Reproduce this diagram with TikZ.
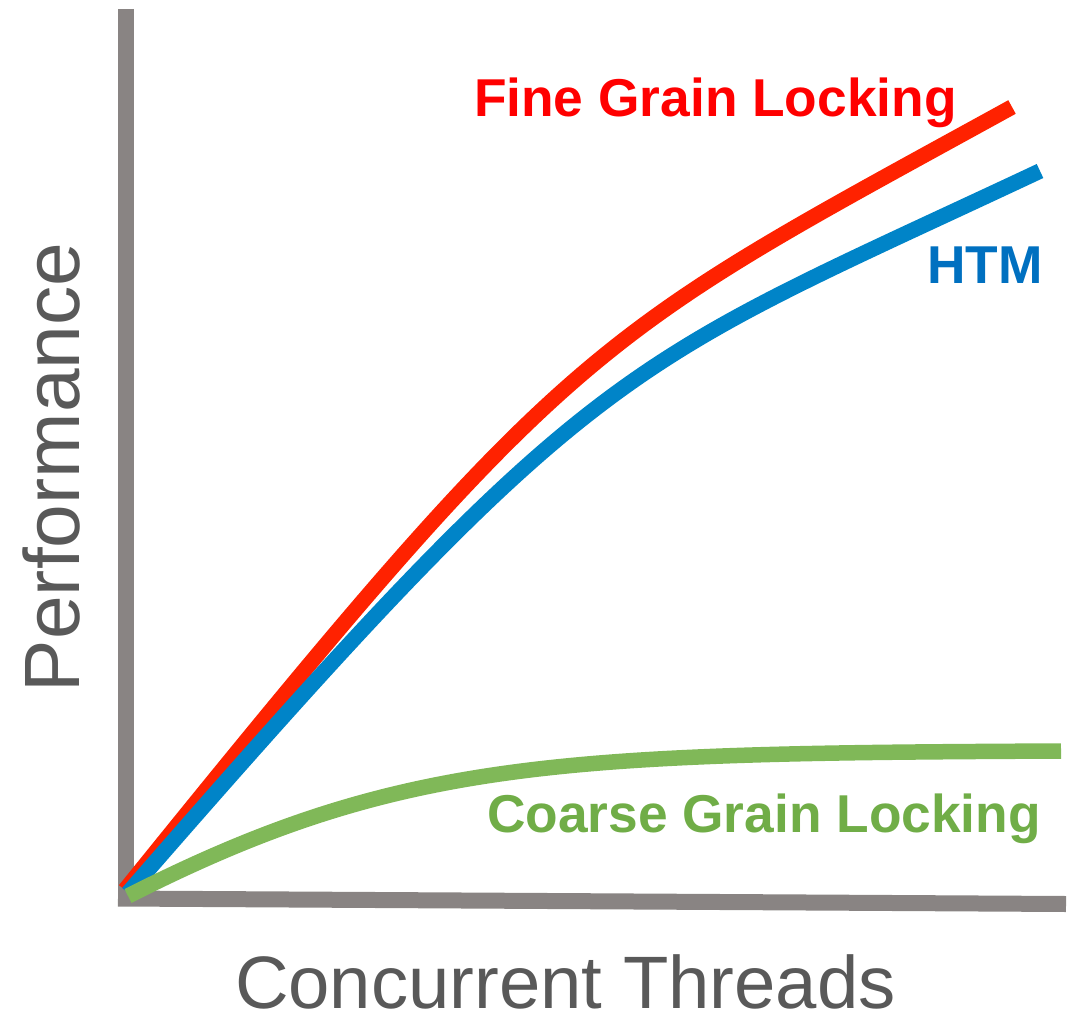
\documentclass[tikz,border=0pt]{standalone}
\usepackage{fontspec}
\setmainfont{Liberation Sans}
\definecolor{axisgray}{HTML}{898483}
\definecolor{labelgray}{HTML}{595959}
\definecolor{finered}{HTML}{FF2200}
\definecolor{finetext}{HTML}{FF0000}
\definecolor{htmblue}{HTML}{0084C8}
\definecolor{htmtext}{HTML}{0070C0}
\definecolor{coarsegreen}{HTML}{80B858}
\definecolor{coarsetext}{HTML}{70AD47}
\begin{document}
\begin{tikzpicture}[x=1pt,y=-1pt,
  axisline/.style={draw=axisgray,line width=16pt},
  curve/.style={line width=15.5pt,line cap=butt,line join=round},
  lbl/.style={inner sep=0pt,outer sep=0pt,anchor=base west,font=\fontsize{53.3}{60}\selectfont\bfseries},
  axlbl/.style={inner sep=0pt,outer sep=0pt,anchor=base west,text=labelgray}]
\useasboundingbox (0,0) rectangle (1076,1019);
% axes
\coordinate (ytop) at (126,9);
\coordinate (ybot) at (126,906);
\coordinate (xleft) at (118,898.5);
\coordinate (xright) at (1066,904);
\draw[axisline] (ytop) -- (ybot);
\draw[axisline] (xleft) -- (xright);
% curves
\coordinate (r0) at (125,890);
\coordinate (r1) at (1012,107);
\coordinate (b0) at (128,893);
\coordinate (b1) at (1040,171);
\coordinate (g0) at (128,896);
\coordinate (g1) at (1061,751);
\draw[curve,draw=finered] (r0) .. controls (575,332) and (592,338) .. (r1);
\draw[curve,draw=htmblue] (b0) .. controls (600,350) and (620,368.4) .. (b1);
\draw[curve,draw=coarsegreen] (g0) .. controls (400,758) and (561,753.5) .. (g1);
% labels
\node[lbl,text=finetext] (fine) at (474,117) {Fine Grain Locking};
\node[lbl,text=htmtext] (htm) at (927,283) {HTM};
\node[lbl,text=coarsetext] (coarse) at (487,832) {Coarse Grain Locking};
\node[axlbl,font=\fontsize{74.3}{80}\selectfont] (xlab) at (235,1008) {Concurrent Threads};
\node[axlbl,font=\fontsize{78.5}{86}\selectfont,rotate=90] (ylab) at (79,692) {Performance};
\end{tikzpicture}
\end{document}
